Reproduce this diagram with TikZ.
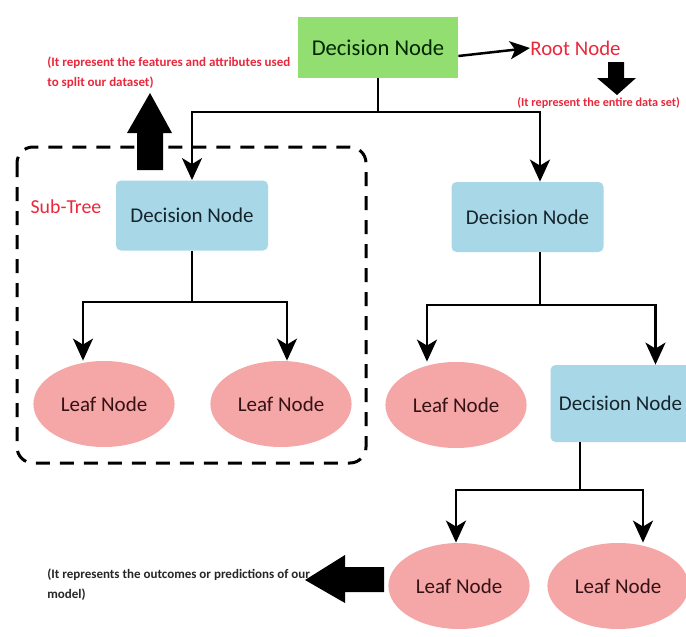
\documentclass[tikz,border=0pt]{standalone}
\usepackage{fontspec}
\setmainfont{Carlito}
\usetikzlibrary{arrows.meta,shapes.geometric}
\definecolor{rootgreen}{RGB}{146,222,112}
\definecolor{nodeblue}{RGB}{168,216,232}
\definecolor{leafpink}{RGB}{245,166,166}
\definecolor{notered}{RGB}{234,40,60}
\definecolor{inkblue}{RGB}{22,36,44}
\definecolor{inkred}{RGB}{52,18,22}
\tikzset{
  rootbox/.style={rectangle, fill=rootgreen, minimum width=80pt, minimum height=30.5pt,
    text=black!85!green, font=\fontsize{11.3}{13}\selectfont},
  decision/.style={rectangle, rounded corners=2.5pt, fill=nodeblue, minimum width=76pt,
    minimum height=35pt, text=inkblue, font=\fontsize{10.5}{12}\selectfont},
  leaf/.style={ellipse, fill=leafpink, minimum width=70pt, minimum height=43pt,
    text=inkred, font=\fontsize{10.5}{12}\selectfont},
  note/.style={align=left, inner sep=0pt, font=\bfseries\fontsize{6.5}{10}\selectfont},
  line/.style={line width=1.25pt},
  arr/.style={line width=1.25pt, -{Stealth[length=11pt,width=10pt,inset=3pt]}},
}
\begin{document}
\begin{tikzpicture}[x=0.5pt, y=-0.5pt]
  \clip (0,0) rectangle (686,637);
  \fill[white] (0,0) rectangle (686,637);
  % sub-tree frame
  \draw[line width=1.5pt, dash pattern=on 7pt off 5pt, rounded corners=8pt] (17,147) rectangle (366,463);
  \node [text=notered, inner sep=0, font=\fontsize{9.9}{12}\selectfont] (sub) at (66,207) {Sub-Tree};

  % nodes
  \node [rootbox] (root) at (378,47.5) {Decision Node};
  \node [decision] (dl) at (192,215.5) {Decision Node};
  \node [decision] (dr) at (527.5,217) {Decision Node};
  \node [leaf] (l1) at (104,404) {Leaf Node};
  \node [leaf] (l2) at (281,404) {Leaf Node};
  \node [leaf] (l3) at (456,405) {Leaf Node};
  \node [decision, minimum width=70pt, minimum height=38.5pt] (d3) at (620.5,403.5) {Decision Node};
  \node [leaf] (l5) at (459,586) {Leaf Node};
  \node [leaf] (l6) at (618,586) {Leaf Node};

  % notes
  \node [text=notered, inner sep=0, anchor=west, font=\fontsize{10.4}{12}\selectfont] (rootlbl) at (530,48) {Root Node};
  \node [note, text=notered, anchor=north west] (featnote) at (47,56) {(It represent the features and attributes used\\to split our dataset)};
  \node [note, text=notered, anchor=west, font=\bfseries\fontsize{6.1}{10}\selectfont] (datanote) at (517,103) {(It represent the entire data set)};
  \node [note, text=black!85, anchor=north west] (outnote) at (47,568) {(It represents the outcomes or predictions of our\\model)};

  % junctions
  \coordinate (j1) at (378,112);
  \coordinate (j2) at (192,302);
  \coordinate (j3) at (540,305);
  \coordinate (j4) at (580,490);

  % tree links
  \draw[line] (root.south) -- (j1);
  \draw[arr] (j1) -| (dl.north);
  \draw[arr] (j1) -| ([xshift=6.25pt]dr.north);
  \draw[line] (dl.south) -- (j2);
  \draw[arr] (j2) -| ([xshift=-10.5pt]l1.north);
  \draw[arr] (j2) -| ([xshift=3pt]l2.north);
  \draw[line] ([xshift=6.25pt]dr.south) -- (j3);
  \draw[arr] (j3) -| ([xshift=-14.5pt]l3.north);
  \draw[arr] (j3) -| ([xshift=17.5pt]d3.north);
  \draw[line] ([xshift=-20.25pt]d3.south) -- (j4);
  \draw[arr] (j4) -| ([xshift=-1.5pt]l5.north);
  \draw[arr] (j4) -| ([xshift=12.5pt]l6.north);
  \draw[arr, -{Stealth[length=10pt,width=9pt,inset=2.5pt]}] ([yshift=-4.25pt]root.east) -- (rootlbl.west);

  % block arrows
  \fill (137,170) -- (137,133) -- (127,133) -- (150,93) -- (172,133) -- (163,133) -- (163,170) -- cycle;
  \fill (608,62) -- (624,62) -- (624,78) -- (636,78) -- (617,95) -- (597,78) -- (608,78) -- cycle;
  \fill (384,567) -- (345,567) -- (345,555) -- (305,580) -- (345,603) -- (345,592) -- (384,592) -- cycle;
\end{tikzpicture}
\end{document}
